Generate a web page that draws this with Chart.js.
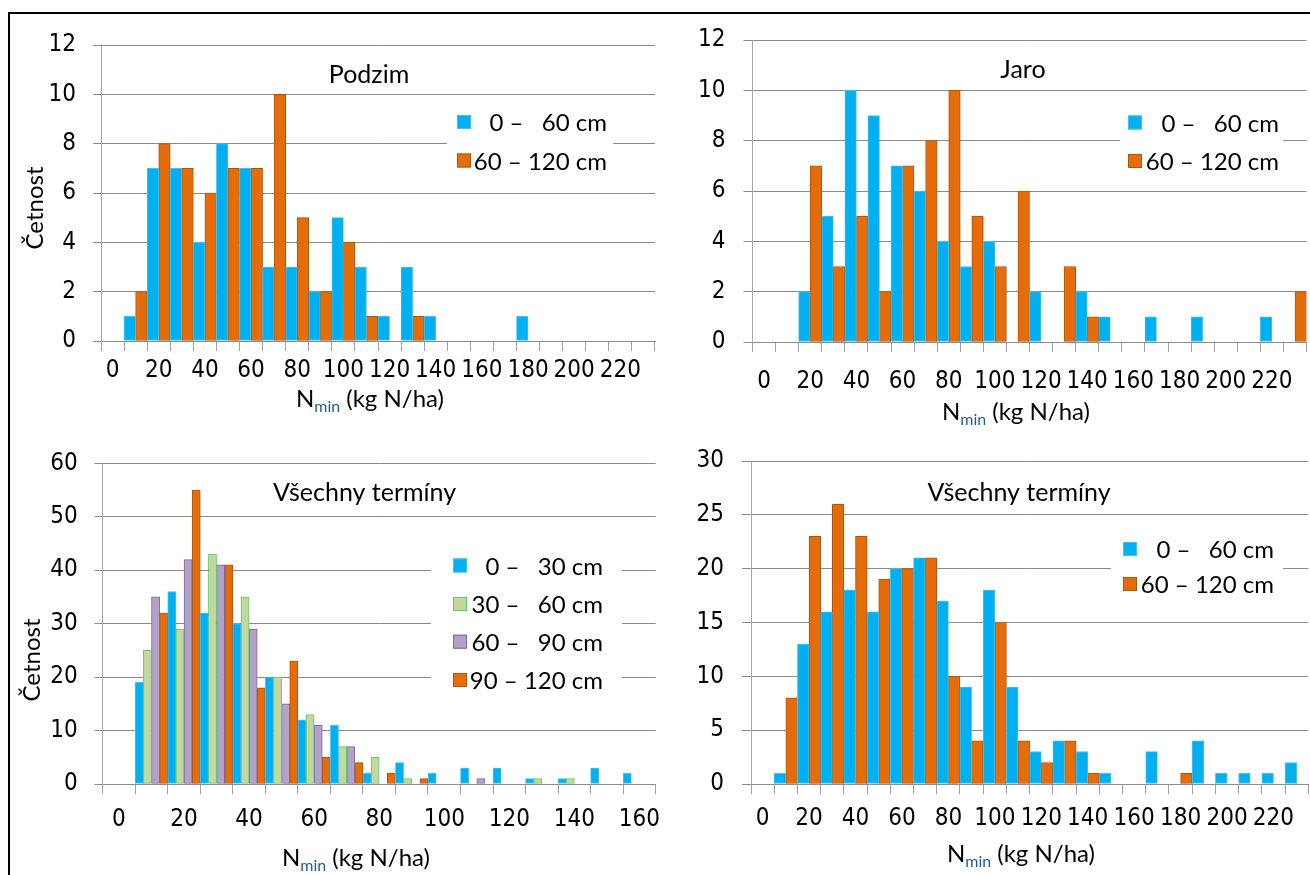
<!DOCTYPE html>
<html>
<head>
<meta charset="utf-8">
<script src="https://cdn.jsdelivr.net/npm/chart.js@4.4.1/dist/chart.umd.min.js"></script>
<style>
  html, body { margin: 0; padding: 0; background: #fff; }
  body { width: 1310px; height: 875px; position: relative; overflow: hidden; }
  canvas { position: absolute; left: 0; top: 0; }
  #frame { position: absolute; left: 8px; top: 12px; width: 1310px; height: 870px;
           border-top: 2px solid #000; border-left: 2px solid #000; }
</style>
</head>
<body>
<div id="frame"></div>
<canvas id="podzimChart" width="1310" height="875"></canvas>
<canvas id="jaroChart" width="1310" height="875"></canvas>
<canvas id="vse4Chart" width="1310" height="875"></canvas>
<canvas id="vse2Chart" width="1310" height="875"></canvas>
<script>
// bins (kg N/ha), one category per 10 kg
const bins230 = ['0', '10', '20', '30', '40', '50', '60', '70', '80', '90', '100', '110',
  '120', '130', '140', '150', '160', '170', '180', '190', '200', '210', '220', '230'];
const bins160 = ['0', '10', '20', '30', '40', '50', '60', '70', '80', '90', '100', '110',
  '120', '130', '140', '150', '160'];

// Podzim
const podzim0_60 = [0, 1, 7, 7, 4, 8, 7, 3, 3, 2, 5, 3, 1, 3, 1, 0, 0, 0, 1, 0, 0, 0, 0, 0];
const podzim60_120 = [0, 2, 8, 7, 6, 7, 7, 10, 5, 2, 4, 1, 0, 1, 0, 0, 0, 0, 0, 0, 0, 0, 0, 0];

// Jaro
const jaro0_60 = [0, 0, 2, 5, 10, 9, 7, 6, 4, 3, 4, 0, 2, 0, 2, 1, 0, 1, 0, 1, 0, 0, 1, 0];
const jaro60_120 = [0, 0, 7, 3, 5, 2, 7, 8, 10, 5, 3, 6, 0, 3, 1, 0, 0, 0, 0, 0, 0, 0, 0, 2];

// Všechny termíny, 30 cm vrstvy
const vse0_30 = [0, 19, 36, 32, 30, 20, 12, 11, 2, 4, 2, 3, 3, 1, 1, 3, 2];
const vse30_60 = [0, 25, 29, 43, 35, 20, 13, 7, 5, 1, 0, 0, 0, 1, 1, 0, 0];
const vse60_90 = [0, 35, 42, 41, 29, 15, 11, 7, 0, 0, 0, 1, 0, 0, 0, 0, 0];
const vse90_120 = [0, 32, 55, 41, 18, 23, 5, 4, 2, 1, 0, 0, 0, 0, 0, 0, 0];

// Všechny termíny, 60 cm vrstvy
const vse0_60 = [0, 1, 13, 16, 18, 16, 20, 21, 17, 9, 18, 9, 3, 4, 3, 1, 0, 3, 0, 4, 1, 1, 1, 2];
const vse60_120 = [0, 8, 23, 26, 23, 19, 20, 21, 10, 4, 15, 4, 2, 4, 1, 0, 0, 0, 1, 0, 0, 0, 0, 0];

const W = 1310, H = 875;
const BLUE = '#00B0F0', ORANGE = '#E46C0A', GREEN = '#C4D79E', PURPLE = '#B3A2C7';
const tickFont = { family: "'Liberation Sans Narrow', 'Arial Narrow', 'DejaVu Sans Condensed', sans-serif", size: 24 };
const textFamily = "Lato, 'Noto Sans', sans-serif";

function series(label, data, fill, border) {
  return { label: label, data: data, backgroundColor: fill, borderColor: border, borderWidth: 1, borderSkipped: false };
}

function drawNmin(ctx, cx, baseline) {
  ctx.font = '24px ' + textFamily;
  const wN = ctx.measureText('N').width;
  const wRest = ctx.measureText('(kg N/ha)').width;
  ctx.font = '16px ' + textFamily;
  const wSub = ctx.measureText('min').width + 6;
  let x = cx - (wN + wSub + wRest) / 2;
  ctx.textAlign = 'left';
  ctx.textBaseline = 'alphabetic';
  ctx.font = '24px ' + textFamily;
  ctx.fillStyle = '#000';
  ctx.fillText('N', x, baseline);
  x += wN;
  ctx.font = '16px ' + textFamily;
  ctx.fillStyle = '#1f5c9a';
  ctx.fillText('min', x, baseline + 5);
  x += wSub;
  ctx.font = '24px ' + textFamily;
  ctx.fillStyle = '#000';
  ctx.fillText('(kg N/ha)', x, baseline);
}

// title, legend and axis titles drawn in page coordinates
const panelText = {
  id: 'panelText',
  afterDraw(chart, args, opts) {
    const ctx = chart.ctx;
    ctx.save();

    const lg = opts.legend;
    ctx.fillStyle = '#fff';
    ctx.fillRect(lg.box[0], lg.box[1], lg.box[2], lg.box[3]);
    chart.data.datasets.forEach((ds, i) => {
      const y = lg.rows[i];
      ctx.fillStyle = ds.backgroundColor;
      ctx.fillRect(lg.squareX, y - 7, 14, 14);
      ctx.strokeStyle = ds.borderColor;
      ctx.lineWidth = 1;
      ctx.strokeRect(lg.squareX + 0.5, y - 6.5, 13, 13);
      ctx.fillStyle = '#000';
      ctx.font = '24px ' + textFamily;
      ctx.textAlign = 'right';
      ctx.textBaseline = 'alphabetic';
      ctx.fillText(ds.label, lg.textRight, y + 9);
    });

    ctx.fillStyle = '#000';
    ctx.font = '25px ' + textFamily;
    ctx.textAlign = 'center';
    ctx.textBaseline = 'alphabetic';
    ctx.fillText(opts.title.text, opts.title.x, opts.title.y);

    drawNmin(ctx, opts.xTitle.x, opts.xTitle.y);

    if (opts.yTitle) {
      ctx.translate(opts.yTitle.x, opts.yTitle.y);
      ctx.rotate(-Math.PI / 2);
      ctx.fillStyle = '#000';
      ctx.font = '24px ' + textFamily;
      ctx.textAlign = 'center';
      ctx.textBaseline = 'alphabetic';
      ctx.fillText('Četnost', 0, 0);
    }
    ctx.restore();
  }
};

function buildPanel(canvasId, labels, datasets, yMax, yStep, area, text) {
  const ctx = document.getElementById(canvasId).getContext('2d');
  return new Chart(ctx, {
    type: 'bar',
    data: { labels: labels, datasets: datasets },
    options: {
      responsive: false,
      animation: false,
      events: [],
      layout: {
        padding: { left: area.left - 60, top: area.top, right: W - area.right, bottom: H - area.bottom - 60 }
      },
      datasets: { bar: { categoryPercentage: 1, barPercentage: 1 } },
      plugins: { legend: { display: false }, tooltip: { enabled: false }, panelText: text },
      scales: {
        x: {
          afterFit: s => { s.height = 60; },
          grid: { offset: true, drawOnChartArea: false, tickLength: 10, color: '#a0a0a0' },
          border: { color: '#8c8c8c' },
          ticks: {
            autoSkip: false, maxRotation: 0, minRotation: 0, padding: area.xPad,
            color: '#000', font: tickFont,
            callback: (v, i) => (i % 2 === 0 ? labels[i] : '')
          }
        },
        y: {
          min: 0, max: yMax,
          afterFit: s => { s.width = 60; },
          grid: { color: '#8a8a8a', tickLength: area.yTick },
          border: { color: '#a6a6a6' },
          ticks: { stepSize: yStep, padding: area.yPad, color: '#000', font: tickFont }
        }
      }
    },
    plugins: [panelText]
  });
}

buildPanel('podzimChart', bins230, [
  series('0 –   60 cm', podzim0_60, BLUE, '#45BEEA'),
  series('60 – 120 cm', podzim60_120, ORANGE, '#B0560C')
], 12, 2, { left: 101, right: 655, top: 45, bottom: 341, xPad: 5, yTick: 8, yPad: 17 }, {
  title: { text: 'Podzim', x: 369, y: 83 },
  legend: { box: [447, 103, 166, 76], squareX: 457, rows: [122, 160.5], textRight: 607 },
  xTitle: { x: 370, y: 407 },
  yTitle: { x: 43, y: 208 }
});

buildPanel('jaroChart', bins230, [
  series('0 –   60 cm', jaro0_60, BLUE, '#45BEEA'),
  series('60 – 120 cm', jaro60_120, ORANGE, '#B0560C')
], 12, 2, { left: 752.5, right: 1309.3, top: 40, bottom: 342, xPad: 15, yTick: 9, yPad: 18 }, {
  title: { text: 'Jaro', x: 1023, y: 78 },
  legend: { box: [1120, 103, 163, 76], squareX: 1128, rows: [122.5, 161], textRight: 1279 },
  xTitle: { x: 1016, y: 420 }
});

buildPanel('vse4Chart', bins160, [
  series('0 –   30 cm', vse0_30, BLUE, '#45BEEA'),
  series('30 –   60 cm', vse30_60, GREEN, '#55CF6E'),
  series('60 –   90 cm', vse60_90, PURPLE, '#7E67A0'),
  series('90 – 120 cm', vse90_120, ORANGE, '#B0560C')
], 60, 10, { left: 102.7, right: 655.7, top: 463.3, bottom: 784, xPad: 11, yTick: 8, yPad: 17 }, {
  title: { text: 'Všechny termíny', x: 364.5, y: 501 },
  legend: { box: [431, 545, 191, 155], squareX: 453, rows: [565.5, 604, 641.7, 680], textRight: 603 },
  xTitle: { x: 356, y: 866 },
  yTitle: { x: 40, y: 660 }
});

buildPanel('vse2Chart', bins230, [
  series('0 –   60 cm', vse0_60, BLUE, '#45BEEA'),
  series('60 – 120 cm', vse60_120, ORANGE, '#B0560C')
], 30, 5, { left: 751, right: 1308.3, top: 461, bottom: 784, xPad: 10, yTick: 9, yPad: 18 }, {
  title: { text: 'Všechny termíny', x: 1019, y: 501 },
  legend: { box: [1111, 530, 172, 75], squareX: 1123, rows: [549, 584], textRight: 1274 },
  xTitle: { x: 1021, y: 862 }
});
</script>
</body>
</html>
